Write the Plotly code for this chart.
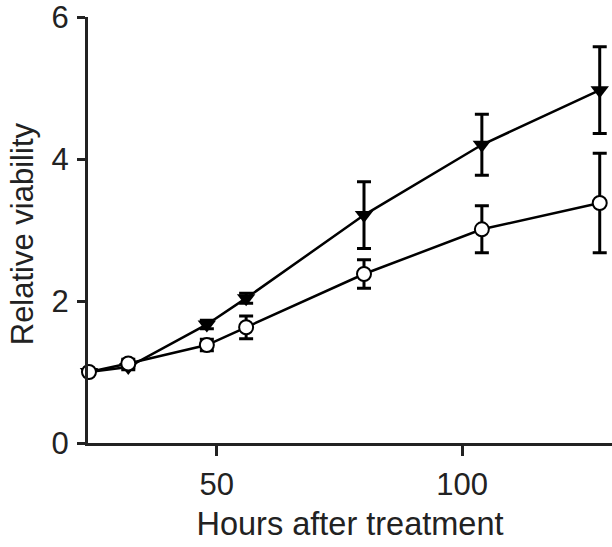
import plotly.graph_objects as go

hours = [24, 32, 48, 56, 80, 104, 128]
treated = [1.0, 1.07, 1.67, 2.04, 3.21, 4.2, 4.97]
treated_err = [0.03, 0.04, 0.06, 0.07, 0.47, 0.43, 0.61]
control = [1.0, 1.12, 1.38, 1.63, 2.38, 3.01, 3.38]
control_err = [0.03, 0.06, 0.08, 0.16, 0.2, 0.33, 0.7]

x_ticks = [50, 100]
y_ticks = [0, 2, 4, 6]

fig = go.Figure()
fig.add_trace(go.Scatter(
    x=hours, y=treated, mode="lines+markers", name="Treated", cliponaxis=False,
    line=dict(color="black", width=2.5),
    marker=dict(symbol="triangle-down", size=16, color="black"),
    error_y=dict(type="data", array=treated_err, color="black", thickness=3, width=7),
))
fig.add_trace(go.Scatter(
    x=hours, y=control, mode="lines+markers", name="Control", cliponaxis=False,
    line=dict(color="black", width=2.5),
    marker=dict(symbol="circle", size=14, color="white", line=dict(color="black", width=2)),
    error_y=dict(type="data", array=control_err, color="black", thickness=3, width=7),
))

W, H = 612, 547
L, T, B = 88, 17, 104
font = dict(family="Liberation Sans, Arial, sans-serif", size=31, color="#222")
fig.update_layout(
    width=W, height=H,
    margin=dict(l=L, r=0, t=T, b=B),
    paper_bgcolor="white", plot_bgcolor="white",
    showlegend=False,
    font=font,
    xaxis=dict(
        range=[23.8, 130.5], tickvals=x_ticks, ticks="outside", ticklen=10, tickwidth=3,
        tickcolor="#222", showline=True, linecolor="#222", linewidth=3,
        showgrid=False, zeroline=False, automargin=False,
        title=dict(text="Hours after treatment", standoff=12, font=dict(size=32.5)),
        ticklabelstandoff=2, ticklabeloverflow="allow",
    ),
    yaxis=dict(
        range=[0, 6], tickvals=y_ticks, ticks="outside", ticklen=8, tickwidth=3,
        tickcolor="#222", showline=True, linecolor="#222", linewidth=3,
        showgrid=False, zeroline=False, automargin=False,
        ticklabelstandoff=2, ticklabeloverflow="allow",
    ),
    annotations=[dict(
        text="Relative viability", textangle=-90, showarrow=False,
        xref="paper", yref="paper", x=(22 - L) / (W - L), y=0.49,
        xanchor="center", yanchor="middle", font=dict(size=31),
    )],
)
fig.write_html("out.html", config={"displayModeBar": False},
               post_script="document.body.style.margin='0';")
